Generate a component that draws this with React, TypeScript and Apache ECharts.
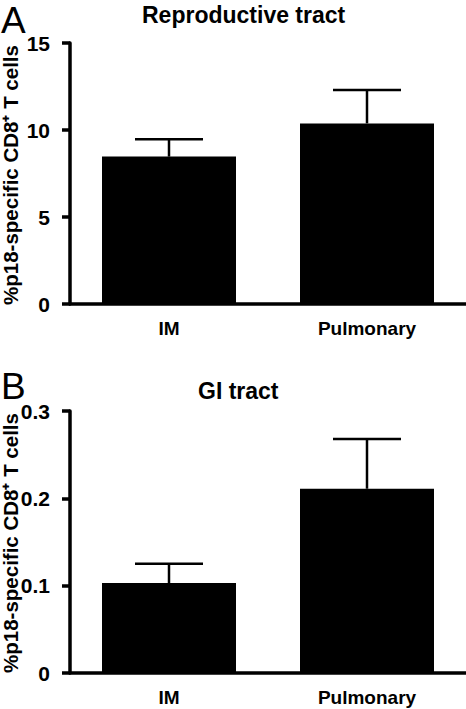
import React, { useEffect, useRef } from "react";
import * as echarts from "echarts";

const categories = ["IM", "Pulmonary"];
const reproMeans = [8.47, 10.38];
const reproErr = [1.0, 1.92];
const giMeans = [0.103, 0.211];
const giErr = [0.022, 0.057];
const reproTicks = { min: 0, max: 15, interval: 5 };
const giTicks = { min: 0, max: 0.3, interval: 0.1 };

const FONT = "'Liberation Sans', Arial, Helvetica, sans-serif";
const yName = "%p18-specific CD8\u207A T cells";

function errSeries(idx: number, means: number[], errs: number[]) {
  return {
    type: "custom",
    xAxisIndex: idx,
    yAxisIndex: idx,
    z: 5,
    data: means.map((m, i) => [i, m, m + errs[i]]),
    renderItem: (params: any, api: any) => {
      const p = api.coord([api.value(0), api.value(1)]);
      const t = api.coord([api.value(0), api.value(2)]);
      const half = 34;
      const style = { stroke: "#000", lineWidth: 2.5 };
      return {
        type: "group",
        children: [
          { type: "line", shape: { x1: p[0], y1: p[1], x2: t[0], y2: t[1] }, style },
          { type: "line", shape: { x1: t[0] - half, y1: t[1], x2: t[0] + half, y2: t[1] }, style },
        ],
      };
    },
  };
}

function xAxis(idx: number) {
  return {
    type: "category",
    gridIndex: idx,
    data: categories,
    axisLine: { lineStyle: { color: "#000", width: 3.5 } },
    axisTick: { show: false },
    axisLabel: { color: "#000", fontFamily: FONT, fontWeight: "bold", fontSize: 19, margin: 15 },
  };
}

function yAxis(idx: number, t: { min: number; max: number; interval: number }) {
  return {
    type: "value",
    gridIndex: idx,
    min: t.min,
    max: t.max,
    interval: t.interval,
    splitLine: { show: false },
    axisLine: { show: true, lineStyle: { color: "#000", width: 3.5 } },
    axisTick: { show: true, length: 8, lineStyle: { color: "#000", width: 3.5 } },
    axisLabel: { color: "#000", fontFamily: FONT, fontWeight: "bold", fontSize: 21, margin: 20 },
  };
}

function yTitle(cy: number) {
  return {
    type: "text",
    x: 10.5,
    y: cy,
    rotation: Math.PI / 2,
    style: {
      text: yName,
      fill: "#000",
      font: `bold 20.5px ${FONT}`,
      textAlign: "center",
      textVerticalAlign: "middle",
    },
  };
}

export default function App() {
  const ref = useRef<HTMLDivElement>(null);
  useEffect(() => {
    if (!ref.current) return;
    const chart = echarts.init(ref.current, null, { renderer: "svg" });
    chart.setOption({
      animation: false,
      backgroundColor: "#fff",
      title: [
        { text: "A", left: 1, top: 2, padding: 0, textStyle: { fontFamily: FONT, fontWeight: "normal", fontSize: 37, color: "#000" } },
        { text: "Reproductive tract", left: 142, top: 3, padding: 0, textStyle: { fontFamily: FONT, fontWeight: "bold", fontSize: 23, color: "#000" } },
        { text: "B", left: 1, top: 368, padding: 0, textStyle: { fontFamily: FONT, fontWeight: "normal", fontSize: 37, color: "#000" } },
        { text: "GI tract", left: 198, top: 379, padding: 0, textStyle: { fontFamily: FONT, fontWeight: "bold", fontSize: 23, color: "#000" } },
      ],
      graphic: [yTitle(175), yTitle(543)],
      grid: [
        { left: 70, right: 0, top: 43, height: 261 },
        { left: 70, right: 0, top: 411, height: 262 },
      ],
      xAxis: [xAxis(0), xAxis(1)],
      yAxis: [yAxis(0, reproTicks), yAxis(1, giTicks)],
      series: [
        { type: "bar", xAxisIndex: 0, yAxisIndex: 0, data: reproMeans, barWidth: 134, itemStyle: { color: "#000" } },
        errSeries(0, reproMeans, reproErr),
        { type: "bar", xAxisIndex: 1, yAxisIndex: 1, data: giMeans, barWidth: 134, itemStyle: { color: "#000" } },
        errSeries(1, giMeans, giErr),
      ],
    });
    return () => chart.dispose();
  }, []);
  return (
    <div
      ref={ref}
      style={{ position: "absolute", left: 0, top: 0, width: 466, height: 709, background: "#fff" }}
    />
  );
}
